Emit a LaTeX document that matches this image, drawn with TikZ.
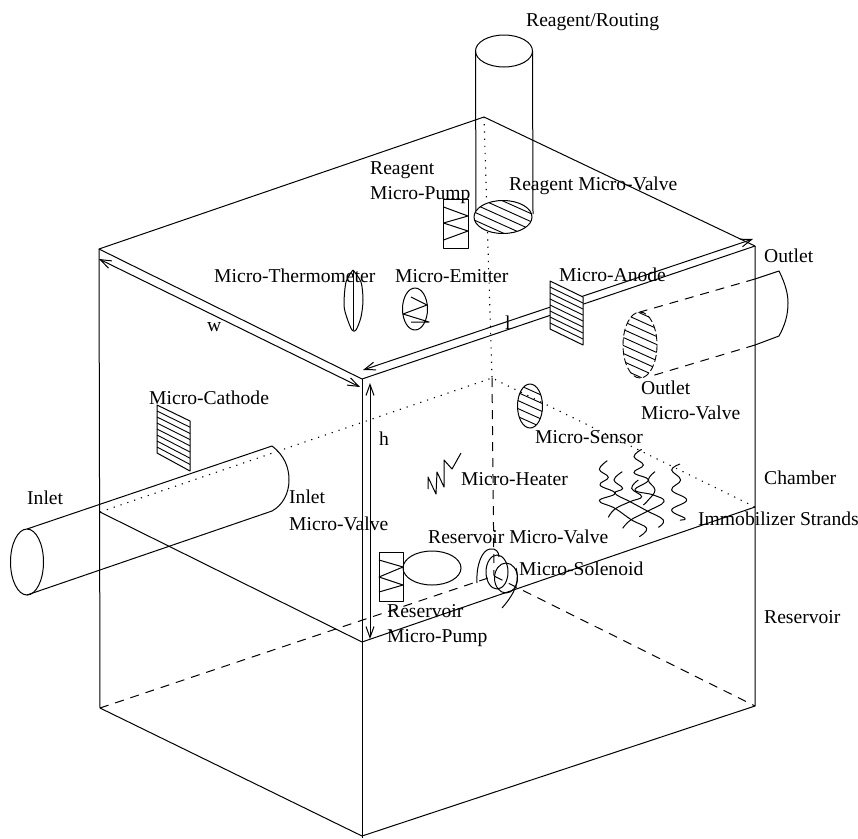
\documentclass[tikz,border=0pt]{standalone}
\usepackage{fontspec}
\setmainfont{Liberation Serif}
\usetikzlibrary{arrows.meta}
\tikzset{
  lbl/.style={anchor=base west,inner sep=0pt,font=\fontsize{19.6}{20}\selectfont},
  ln/.style={line width=1pt,line join=round},
  thinln/.style={line width=0.9pt},
  dim/.style={line width=1pt,{Straight Barb[length=11pt,width=8pt]}-{Straight Barb[length=11pt,width=8pt]}},
  dotline/.style={line width=1.1pt,dash pattern=on 1.2pt off 6pt},
  dashline/.style={line width=1pt,dash pattern=on 9pt off 7pt},
  strand/.style={line width=1pt,smooth,tension=0.7}
}
\newcommand{\hatchellipse}[3]{% centre, rx, ry
  \begin{scope}
    \clip (#1) ellipse [x radius=#2,y radius=#3];
    \foreach \d in {-48,-40,...,48}{
      \draw[thinln] ([shift={(-40,\d-18)}]#1) -- ([shift={(40,\d+18)}]#1);
    }
  \end{scope}}
\begin{document}
\begin{tikzpicture}[x=1pt,y=-1pt]
\useasboundingbox (0,0) rectangle (858,838);
\fill[white] (0,0) rectangle (858,838);
% box corners
\coordinate (T) at (484,117);
\coordinate (L) at (99,249);
\coordinate (F) at (362,379);
\coordinate (R) at (755,246);
\coordinate (LM) at (100,512);
\coordinate (FM) at (362,642);
\coordinate (RM) at (755,507);
\coordinate (BM) at (492,378);
\coordinate (LB) at (100,708);
\coordinate (FB) at (362,838);
\coordinate (RB) at (755,706);
\coordinate (BB) at (494,576);
% solid edges
\draw[ln] (L) -- (T) -- (R) -- (F) -- cycle;
\draw[ln] (L) -- (LB) -- (362,836) -- (RB) -- (R);
\draw[ln] (F) -- (FB);
\draw[ln] (LM) -- (FM) -- (RM);
% hidden edges
\draw[dotline] (T) -- (BM);
\draw[dotline] (LM) -- (BM) -- (RM);
\draw[dashline] (BM) -- (BB);
\draw[dashline] (LB) -- (BB) -- (RB);
% dimension arrows
\draw[dim] (99,259) -- (360,387);
\draw[dim] (363,370) -- (753,239);
\draw[dim] (370,383) -- (370,639);
% reagent cylinder
\draw[ln] (504,51) ellipse [x radius=28.5,y radius=16];
\draw[ln] (475.5,51) -- (476,214);
\draw[ln] (532.5,51) -- (533,214);
\fill[white] (503,217) ellipse [x radius=29,y radius=16.5];
\hatchellipse{503,217}{29}{16.5}
\draw[ln] (503,217) ellipse [x radius=29,y radius=16.5];
% reagent pump
\draw[ln] (443.5,199) rectangle (468,248);
\draw[ln] (443.5,207) -- (468,216) -- (443.5,223) -- (468,231) -- (443.5,240);
% thermometer
\draw[ln] plot[smooth,tension=0.5] coordinates {(353,270) (346,282) (344,305) (347,318) (352,330) (356,330) (361,317) (363,300) (361,282) (353,270)};
\draw[ln] (353,270) -- (353,330);
% emitter
\draw[ln] (415,309) ellipse [x radius=12.5,y radius=21];
\draw[ln] (411,297) -- (427,305) -- (403,314) -- (429,322) -- (411,322);
% anode
\draw[ln,fill=white] (550,281) -- (583,297) -- (583,345) -- (550,329) -- cycle;
\foreach \i in {1,...,7}{\draw[thinln] (550,281+6*\i) -- (583,297+6*\i);}
% cathode
\draw[ln] (157,405) -- (190,421) -- (190,471) -- (157,453) -- cycle;
\foreach \i in {1,...,7}{\draw[thinln] (157,405+6*\i) -- (190,421+6.2*\i);}
% inlet cylinder
\draw[ln] (27,562) ellipse [x radius=16.5,y radius=33];
\draw[ln] (27,529) -- (272,446);
\draw[ln] (27,595) -- (272,511);
\draw[ln] (272,446) .. controls (285,456) and (289,468) .. (289,480) .. controls (289,493) and (283,505) .. (272,511);
% outlet
\draw[ln] (755,279) -- (779,271) .. controls (786,285) and (788,295) .. (788,303) .. controls (788,315) and (785,325) .. (779,336) -- (755,345);
\draw[dashline] (755,279) -- (640,312);
\draw[dashline] (755,345) -- (648,377);
\hatchellipse{640,345}{17}{33}
\draw[thinln,dash pattern=on 7pt off 3pt] (640,345) ellipse [x radius=17,y radius=33];
% sensor
\hatchellipse{530,406}{12.5}{22}
\draw[ln] (530,406) ellipse [x radius=12.5,y radius=22];
% heater
\draw[ln] (428,489) -- (428,477) -- (436,494) -- (437,472) -- (444,487) -- (444,460) -- (452,469) -- (461,453);
% reservoir pump and valve
\draw[ln] (379,552) rectangle (403,601);
\draw[ln] (379,560) -- (403,567) -- (379,577) -- (403,585) -- (379,592);
\draw[ln] (432,568) ellipse [x radius=29,y radius=17];
% solenoid
\draw[ln] (477,583) .. controls (476,565) and (482,550) .. (490,549) .. controls (496,548) and (499,552) .. (499,557);
\draw[ln] (497,572) ellipse [x radius=11,y radius=17];
\draw[ln] (506,578) ellipse [x radius=11.5,y radius=15];
\draw[ln] (516,568) .. controls (519,578) and (518,590) .. (502,608);
% immobilizer strands
\begin{scope}[shift={(590,440)},x=0.3333pt,y=-0.3333pt]
\draw[strand] plot coordinates {(52,62) (28,88) (55,112) (30,135) (75,160) (28,182) (75,205) (125,240) (170,265) (148,290)};
\draw[strand] plot coordinates {(97,95) (72,120) (98,145) (75,160) (120,185) (170,212) (220,240) (205,262)};
\draw[strand] plot coordinates {(155,28) (132,50) (160,75) (132,98) (175,120) (135,150) (190,165) (222,185) (170,215) (122,240) (98,265)};
\draw[strand] plot coordinates {(145,120) (125,145) (155,170) (120,185) (75,207) (55,232)};
\draw[strand] plot coordinates {(195,95) (175,120) (195,150) (175,180) (160,195)};
\draw[strand] plot coordinates {(270,72) (245,90) (272,120) (245,150) (290,180) (245,210) (285,235) (270,240)};
\end{scope}
% labels
\node[lbl] (n1) at (526,26) {Reagent/Routing};
\node[lbl] (n2) at (370,174.5) {Reagent};
\node[lbl] (n3) at (370,199) {Micro-Pump};
\node[lbl] (n4) at (509,190) {Reagent Micro-Valve};
\node[lbl] (n5) at (214,282) {Micro-Thermometer};
\node[lbl] (n6) at (395,282) {Micro-Emitter};
\node[lbl] (n7) at (559,281) {Micro-Anode};
\node[lbl] (n8) at (764,262) {Outlet};
\node[lbl] (n9) at (641,394) {Outlet};
\node[lbl] (n10) at (641,419) {Micro-Valve};
\node[lbl] (n11) at (535,443) {Micro-Sensor};
\node[lbl] (n12) at (149,404) {Micro-Cathode};
\node[lbl] (n13) at (207,331) {w};
\node[lbl] (n14) at (505,329) {l};
\node[lbl] (n15) at (379,445) {h};
\node[lbl] (n16) at (27,504) {Inlet};
\node[lbl] (n17) at (289,503) {Inlet};
\node[lbl] (n18) at (289,530) {Micro-Valve};
\node[lbl] (n19) at (461,485) {Micro-Heater};
\node[lbl] (n20) at (764,484) {Chamber};
\node[lbl] (n21) at (698,525) {Immobilizer Strands};
\node[lbl] (n22) at (428,543) {Reservoir Micro-Valve};
\node[lbl] (n23) at (519,575) {Micro-Solenoid};
\node[lbl] (n24) at (387,617) {Reservoir};
\node[lbl] (n25) at (387,642) {Micro-Pump};
\node[lbl] (n26) at (764,623) {Reservoir};
\end{tikzpicture}
\end{document}
